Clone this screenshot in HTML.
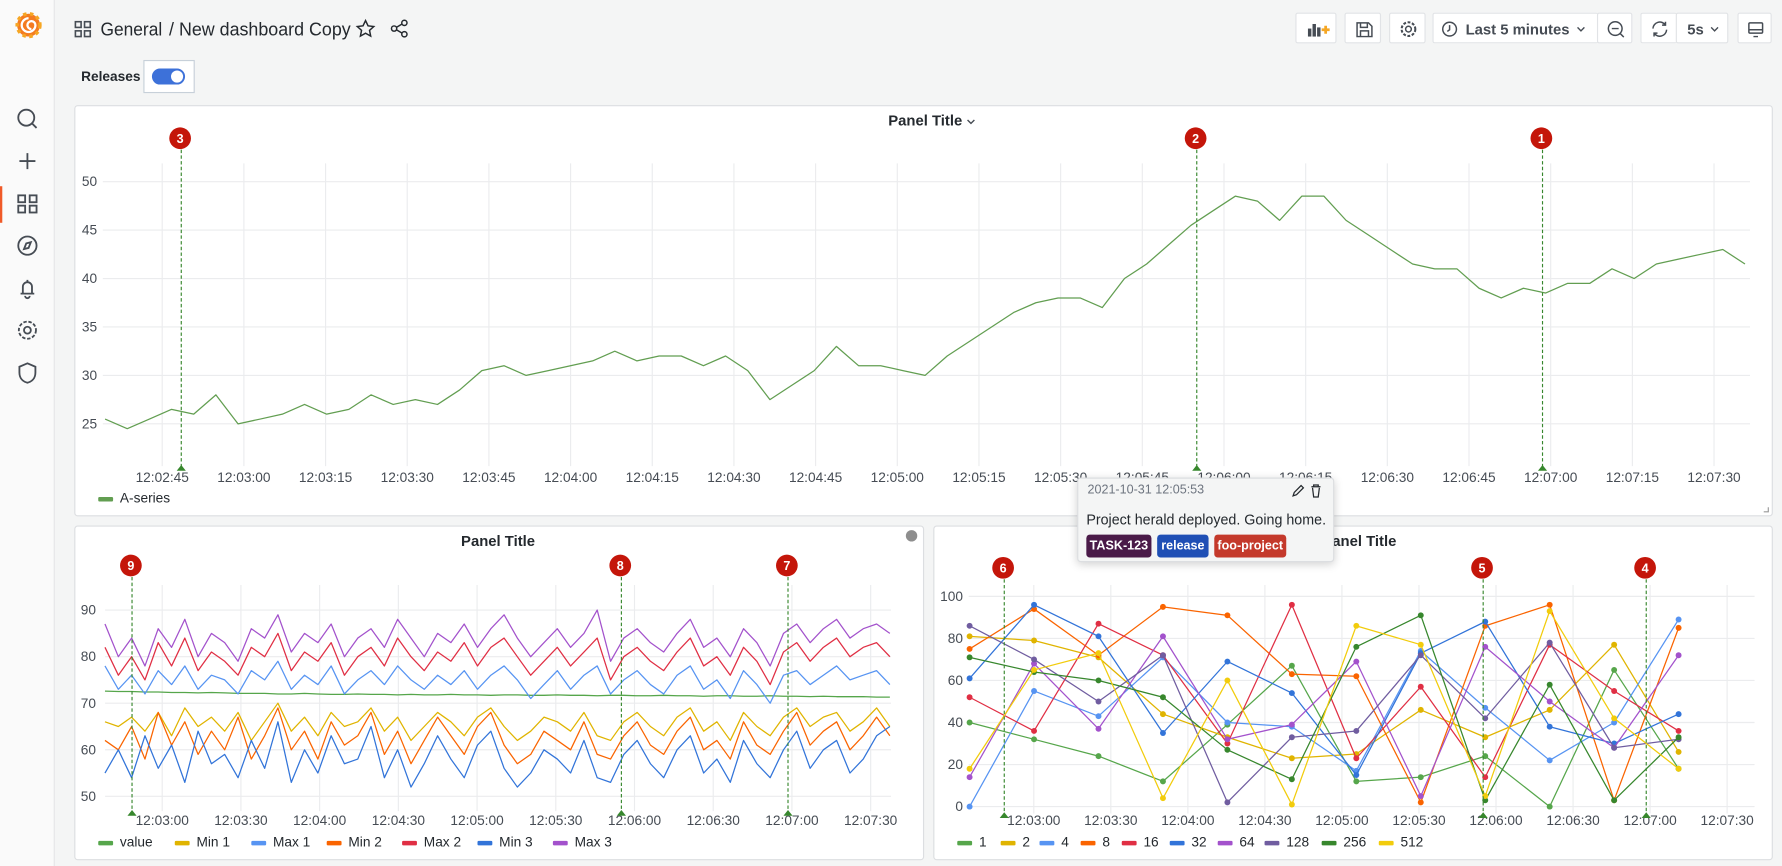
<!DOCTYPE html>
<html><head><meta charset="utf-8">
<style>
html,body{margin:0;padding:0;width:1782px;height:866px;overflow:hidden;background:#f4f5f5;font-family:"Liberation Sans",sans-serif;}
#root{position:absolute;left:0;top:0;width:1560px;height:758px;transform:scale(1.14231,1.14248);transform-origin:0 0;background:#f4f5f5;}
.abs{position:absolute;}
.btn{position:absolute;top:11px;height:27px;background:#fff;border:1px solid #e1e3e6;border-radius:2px;box-sizing:border-box;}
.panel{position:absolute;background:#fff;border:1px solid #dcdee1;border-radius:3px;box-sizing:border-box;}
svg text{font-family:"Liberation Sans",sans-serif;}
</style></head>
<body>
<div id="root">
  <div class="abs" style="left:0;top:0;width:48px;height:758px;background:#fafafa;border-right:1px solid #e4e5e7;box-sizing:border-box;"></div>
  <svg class="abs" style="left:0;top:0" width="1560" height="758" id="chrome">
    <g>
      <circle cx="25" cy="22" r="10" fill="#f47b20"/>
      <circle cx="25" cy="22" r="10" fill="none" stroke="#f6a623" stroke-width="3" stroke-dasharray="3 3"/>
      <path d="M25 16 a6 6 0 1 0 6 6 a3.5 3.5 0 1 0 -3.5 3.5" fill="none" stroke="#fff" stroke-width="2"/>
    </g>
    <g fill="none" stroke="#464c54" stroke-width="1.6">
      <g><circle cx="23" cy="103" r="7"/><path d="M28 108l4 4"/></g>
      <g><path d="M24 134v14M17 141h14"/></g>
      <g><rect x="16" y="171" width="6" height="6"/><rect x="26" y="171" width="6" height="6"/><rect x="16" y="180" width="6" height="6"/><rect x="26" y="180" width="6" height="6"/></g>
      <g><circle cx="24" cy="215" r="8"/><path d="M27 212l-2 5-4 1 2-5z"/></g>
      <g><path d="M18 257h12M20 257v-6a4 4 0 0 1 8 0v6M24 245v2M22 259a2 2 0 0 0 4 0"/></g>
      <g><circle cx="24" cy="289" r="3"/><circle cx="24" cy="289" r="7.5" stroke-dasharray="3 1.5"/></g>
      <g><path d="M24 318l7 3v5c0 5-3 8-7 9c-4-1-7-4-7-9v-5z"/></g>
    </g>
    <rect x="0" y="163" width="2" height="32" fill="#f05a28"/>
    <g fill="none" stroke="#464c54" stroke-width="1.4">
      <rect x="66" y="19" width="5" height="5"/><rect x="74" y="19" width="5" height="5"/><rect x="66" y="27" width="5" height="5"/><rect x="74" y="27" width="5" height="5"/>
    </g>
    <text x="88" y="31" font-size="16" fill="#24292e" textLength="54" lengthAdjust="spacingAndGlyphs">General</text>
    <text x="148" y="31" font-size="16" fill="#24292e" textLength="159" lengthAdjust="spacingAndGlyphs">/ New dashboard Copy</text>
    <path d="M320 18l2.2 4.6 5 .6-3.7 3.4 1 5-4.5-2.5-4.5 2.5 1-5-3.7-3.4 5-.6z" fill="none" stroke="#24292e" stroke-width="1.3"/>
    <g fill="none" stroke="#24292e" stroke-width="1.3"><circle cx="345" cy="25" r="2.3"/><circle cx="354" cy="20" r="2.3"/><circle cx="354" cy="30" r="2.3"/><path d="M347 24l5-3M347 26l5 3"/></g>
    <text x="71" y="71" font-size="12" font-weight="bold" fill="#24292e">Releases</text>
    <rect x="126" y="53" width="44" height="28" fill="#fff" stroke="#c7d0d9"/>
    <g><rect x="133" y="60" width="29" height="14" rx="7" fill="#3d71d9"/><circle cx="155" cy="67" r="5.3" fill="#fff"/></g>
  </svg>
  <div class="btn" style="left:1134px;width:36px;"><svg width="36" height="27"><g fill="#464c54"><rect x="10" y="13" width="3" height="7"/><rect x="14" y="9" width="3" height="11"/><rect x="18" y="12" width="3" height="8"/></g><path d="M22 14h7M25.5 10.5v7" stroke="#f5a623" stroke-width="2.4"/></svg></div>
  <div class="btn" style="left:1177px;width:32px;"><svg width="32" height="27"><path d="M10 8h10l3 3v9H10z M13 8v4h6V8 M13 20v-5h7v5" fill="none" stroke="#464c54" stroke-width="1.3"/></svg></div>
  <div class="btn" style="left:1216px;width:32px;"><svg width="32" height="27"><circle cx="16" cy="13.5" r="2.5" fill="none" stroke="#464c54" stroke-width="1.3"/><circle cx="16" cy="13.5" r="6" fill="none" stroke="#464c54" stroke-width="1.8" stroke-dasharray="2.5 1.4"/></svg></div>
  <div class="btn" style="left:1254px;width:145px;border-right:none;"><svg width="145" height="27"><circle cx="14" cy="13.5" r="6" fill="none" stroke="#464c54" stroke-width="1.3"/><path d="M14 10v4l-2 1.5" fill="none" stroke="#464c54" stroke-width="1.3"/><text x="28" y="18" font-size="13" font-weight="bold" fill="#464c54">Last 5 minutes</text><path d="M126 12l3 3 3-3" fill="none" stroke="#464c54" stroke-width="1.2"/></svg></div>
  <div class="btn" style="left:1398px;width:31px;"><svg width="31" height="27"><circle cx="15" cy="13" r="6" fill="none" stroke="#464c54" stroke-width="1.3"/><path d="M12 13h6M19.5 17.5l3 3" stroke="#464c54" stroke-width="1.3"/></svg></div>
  <div class="btn" style="left:1436px;width:32px;border-right:none;"><svg width="32" height="27"><path d="M10 13a6 6 0 0 1 11-3M22 14a6 6 0 0 1-11 3M21 7v3h-3M11 20v-3h3" fill="none" stroke="#464c54" stroke-width="1.3"/></svg></div>
  <div class="btn" style="left:1467px;width:46px;"><svg width="46" height="27"><text x="9" y="18" font-size="13" font-weight="bold" fill="#464c54">5s</text><path d="M30 12l3 3 3-3" fill="none" stroke="#464c54" stroke-width="1.2"/></svg></div>
  <div class="btn" style="left:1521px;width:30px;"><svg width="30" height="27"><rect x="9" y="8" width="12" height="9" rx="1" fill="none" stroke="#464c54" stroke-width="1.3"/><path d="M9 14h12M13 20h4" stroke="#464c54" stroke-width="1.3"/></svg></div>

  <div class="panel" style="left:65px;top:92px;width:1487px;height:360px;"></div>
  <div class="panel" style="left:65px;top:460px;width:744px;height:293px;"></div>
  <div class="panel" style="left:817px;top:460px;width:735px;height:293px;"></div>
  <svg class="abs" id="charts" style="left:0;top:0" width="1560" height="758"></svg>

  <div class="abs" style="left:943px;top:418px;width:225px;height:74px;background:#f4f5f5;border:1px solid #dcdee1;border-radius:3px;box-shadow:0 2px 8px rgba(0,0,0,0.18);box-sizing:border-box;">
    <div class="abs" style="left:8px;top:4px;font-size:11px;color:#6e7580;">2021-10-31 12:05:53</div>
    <svg class="abs" style="left:186px;top:4px" width="34" height="14"><path d="M2 11l1-3 6-6 2 2-6 6z" fill="none" stroke="#24292e" stroke-width="1.1"/><path d="M18 3h8M20 3V1.5h4V3M19 4l1 8h4l1-8" fill="none" stroke="#24292e" stroke-width="1.1"/></svg>
    <div class="abs" style="left:7px;top:29px;font-size:12.5px;color:#24292e;white-space:nowrap;">Project herald deployed. Going home.</div>
    <div class="abs" style="left:7px;top:49px;width:57px;height:20px;background:#4a1a48;color:#fff;font-size:11px;font-weight:bold;line-height:20px;text-align:center;border-radius:3px;">TASK-123</div>
    <div class="abs" style="left:69px;top:49px;width:45px;height:20px;background:#1f4fb5;color:#fff;font-size:11px;font-weight:bold;line-height:20px;text-align:center;border-radius:3px;">release</div>
    <div class="abs" style="left:119px;top:49px;width:63px;height:20px;background:#c4392b;color:#fff;font-size:11px;font-weight:bold;line-height:20px;text-align:center;border-radius:3px;">foo-project</div>
  </div>
</div>
<script>
// ---------- data ----------
const annotationTimes = [418.5, 355, 168.5]; // seconds after 12:00:00
const annotationLabels = ["1","2","3"];
const annotationTimes2 = [168.5, 355, 418.5];
const annotationLabels2 = ["9","8","7"];
const annotationLabels3 = ["6","5","4"];

const p1Start = 154.5, p1Step = 4.07;
const p1Values = [25.5,24.5,25.5,26.5,26,28,25,25.5,26,27,26,26.5,28,27,27.5,27,28.5,30.5,31,30,30.5,31,31.5,32.5,31.5,32,32,31,32,30.5,27.5,29,30.5,33,31,31,30.5,30,32,33.5,35,36.5,37.5,38,38,37,40,41.5,43.5,45.5,47,48.5,48,46,48.5,48.5,46,44.5,43,41.5,41,41,39,38,39,38.5,39.5,39.5,41,40,41.5,42,42.5,43,41.5];
const p1YTicks = [25,30,35,40,45,50];
const p1XTicks = [165,180,195,210,225,240,255,270,285,300,315,330,345,360,375,390,405,420,435,450];

const p2Start = 158.2, p2Step = 5.07;
const p2Names = ["value","Min 1","Max 1","Min 2","Max 2","Min 3","Max 3"];
const p2Value = [72.6,72.5,72.5,72.4,72.4,72.3,72.3,72.2,72.3,72.2,72.1,72.1,72.1,72.0,72.0,72.1,72.0,71.9,71.9,72.0,71.9,71.9,71.8,71.9,71.8,71.8,71.9,71.8,71.8,71.7,71.8,71.8,71.7,71.7,71.8,71.7,71.7,71.6,71.7,71.7,71.6,71.6,71.7,71.6,71.6,71.5,71.6,71.6,71.5,71.5,71.6,71.5,71.5,71.4,71.5,71.4,71.4,71.4,71.3,71.3];
const p2Min1 = [66,65,67,64,68,63,69,65,67,64,68,62,66,70,64,67,63,68,65,66,69,64,67,62,65,68,66,63,67,69,65,62,64,67,66,64,68,63,62,66,68,65,63,67,69,64,66,62,68,65,63,67,69,65,67,68,64,66,69,65];
const p2Max1 = [78,73,76,72,77,74,78,73,76,75,72,77,75,79,73,76,74,78,72,75,77,74,78,75,73,76,74,77,73,76,78,75,71,74,77,73,76,78,72,75,77,74,72,76,78,73,75,71,77,74,70,76,77,74,76,78,75,76,77,74];
const p2Min2 = [62,60,65,58,68,61,66,59,64,60,67,58,63,69,60,64,58,66,61,63,68,59,64,57,62,67,63,59,65,68,61,57,59,64,62,60,66,59,58,63,66,61,59,64,67,60,62,58,66,61,59,64,68,61,64,66,60,63,67,63];
const p2Max2 = [82,76,80,75,83,78,84,77,81,79,76,82,80,85,77,81,79,83,76,80,82,78,84,80,77,81,79,83,78,82,84,80,76,79,82,78,81,84,75,80,82,79,77,81,84,78,80,76,82,79,74,81,83,79,82,84,80,82,83,80];
const p2Min3 = [55,60,54,63,56,61,53,64,57,59,54,62,56,66,53,60,55,63,57,58,65,54,60,52,57,63,58,54,61,64,56,52,55,60,58,55,62,54,53,59,62,57,54,60,63,55,58,53,62,57,54,60,64,56,60,62,55,58,63,65];
const p2Max3 = [87,80,84,78,86,82,88,80,85,83,79,86,84,89,81,85,83,87,80,84,86,82,88,84,80,85,83,87,82,86,89,84,80,83,86,82,85,90,79,84,86,83,81,85,88,82,84,80,86,83,78,85,87,83,86,88,84,86,87,85];
const p2YTicks = [50,60,70,80,90];
const p2XTicks = [180,210,240,270,300,330,360,390,420,450];

const p3Start = 155, p3Step = 25.1;
const p3Names = ["1","2","4","8","16","32","64","128","256","512"];
const s1   = [40,32,24,12,39,67,12,14,24,0,65,18];
const s2   = [81,79,71,44,33,23,25,46,33,46,77,26];
const s4   = [0,55,43,71,40,38,17,74,47,22,40,89];
const s8   = [75,94,72,95,91,63,62,2,86,96,3,85];
const s16  = [52,36,87,72,30,96,23,57,14,77,55,36];
const s32  = [61,96,81,35,69,54,15,73,88,38,30,44];
const s64  = [14,68,37,81,32,39,69,5,76,50,28,72];
const s128 = [86,70,50,72,2,33,36,72,42,78,28,32];
const s256 = [71,64,60,52,27,13,76,91,3,58,3,33];
const s512 = [18,65,73,4,60,1,86,77,5,93,42,18];
const p3YTicks = [0,20,40,60,80,100];
const p3XTicks = [180,210,240,270,300,330,360,390,420,450];

// ---------- scales ----------
const x1 = t => 142 + (t - 165) * 71.5 / 15;
const y1 = v => 371 - (v - 25) * 8.48;
const x2 = t => 142 + (t - 180) * 2.297;
const y2 = v => 697 - (v - 50) * 4.075;
const x3 = t => 905 + (t - 180) * 2.248;
const y3 = v => 706 - v * 1.84;
const fmt = t => { const m = Math.floor(t / 60), s = Math.round(t % 60); return "12:" + String(m).padStart(2, "0") + ":" + String(s).padStart(2, "0"); };

const NS = "http://www.w3.org/2000/svg";
const svg = document.getElementById("charts");
function mk(tag, attrs, parent) { const e = document.createElementNS(NS, tag); for (const k in attrs) e.setAttribute(k, attrs[k]); (parent || svg).appendChild(e); return e; }
function txt(s, attrs, parent) { const e = mk("text", attrs, parent); e.textContent = s; return e; }
const GRID = "#ebecee", LBL = "#464c54";

function drawAxes(yTicks, ys, xTicks, xs, left, right, top, bottom, yLabelX, xLabelY, prefix) {
  const g = mk("g", {});
  
  
  yTicks.forEach(v => {
    const l = mk("line", { x1: left, x2: right, y1: ys(v), y2: ys(v), stroke: GRID, "stroke-width": 1 }, g);
    
    
    const t = txt(String(v), { x: yLabelX, y: ys(v) + 4, "font-size": 12, fill: LBL, "text-anchor": "end" }, g);
    
    
  });
  xTicks.forEach(tv => {
    const l = mk("line", { x1: xs(tv), x2: xs(tv), y1: top, y2: bottom, stroke: GRID, "stroke-width": 1 }, g);
    
    
    const t = txt(fmt(tv), { x: xs(tv), y: xLabelY, "font-size": 12, fill: LBL, "text-anchor": "middle" }, g);
    
    
  });
}
function drawMarkers(times, labels, xs, cy, bottom, prefix) {
  times.forEach((t, i) => {
    const x = xs(t);
    const l = mk("line", { x1: x, x2: x, y1: cy + 10, y2: bottom, stroke: "#37872d", "stroke-width": 1, "stroke-dasharray": "3 2" });
    
    
    const tr = mk("path", { d: `M${x - 4} ${bottom + 4}L${x + 4} ${bottom + 4}L${x} ${bottom - 1}Z`, fill: "#37872d" });
    
    
    const c = mk("circle", { cx: x - 1, cy: cy, r: 9.5, fill: "#c4160a" });
    
    
    const tx = txt(labels[i], { x: x - 1, y: cy + 4, "font-size": 11, "font-weight": "bold", fill: "#fff", "text-anchor": "middle" });
    
    
  });
}
function series(vals, start, step, xs, ys, color, name, dots) {
  const pts = vals.map((v, i) => xs(start + i * step).toFixed(1) + "," + ys(v).toFixed(1)).join(" ");
  const p = mk("polyline", { points: pts, fill: "none", stroke: color, "stroke-width": 1.1, "stroke-linejoin": "round" });
  
  
  if (dots) vals.forEach((v, i) => {
    const c = mk("circle", { cx: xs(start + i * step), cy: ys(v), r: 2.6, fill: color });
    
    
  });
}
function legend(entries, colors, xsPos, y, prefix) {
  entries.forEach((n, i) => {
    const r = mk("rect", { x: xsPos[i], y: y - 5, width: 13, height: 4, rx: 1, fill: colors[i] });
    
    
    const t = txt(n, { x: xsPos[i] + 19, y: y, "font-size": 12, fill: "#24292e" });
    
    
  });
}
function title(s, x, y, name) {
  const t = txt(s, { x: x, y: y, "font-size": 13, "font-weight": "bold", fill: "#24292e", "text-anchor": "middle" });
  
  
}

// ---------- panel 1 ----------
title("Panel Title", 810, 110, "top-panel-title");
const chev = mk("path", { d: "M847 105l3 3 3-3", fill: "none", stroke: "#464c54", "stroke-width": 1.2 });


drawAxes(p1YTicks, y1, p1XTicks, x1, 90, 1532, 143, 408, 85, 422, "top-panel");
series(p1Values, p1Start, p1Step, x1, y1, "#629e51", "a-series-line", false);
drawMarkers(annotationTimes, annotationLabels, x1, 121, 408, "top-panel");
legend(["A-series"], ["#629e51"], [86], 440, "top-panel");
const rz = mk("path", { d: "M1548 444v4h-4", fill: "none", stroke: "#999", "stroke-width": 1 });



// ---------- panel 2 ----------
title("Panel Title", 436, 478, "bottom-left-panel-title");
const dot = mk("circle", { cx: 798, cy: 469, r: 5, fill: "#8e8e8e" });


drawAxes(p2YTicks, y2, p2XTicks, x2, 92, 780, 512, 710, 84, 722, "bottom-left-panel");
const p2Colors = ["#56a64b", "#e0b400", "#5794f2", "#fa6400", "#e02f44", "#3274d9", "#a352cc"];
const p2Data = [p2Value, p2Min1, p2Max1, p2Min2, p2Max2, p2Min3, p2Max3];
p2Data.forEach((d, i) => series(d, p2Start, p2Step, x2, y2, p2Colors[i], "series-" + p2Names[i].toLowerCase().replace(" ", "-"), false));
drawMarkers(annotationTimes2, annotationLabels2, x2, 495, 710, "bottom-left-panel");
legend(p2Names, p2Colors, [86, 153, 220, 286, 352, 418, 484], 741, "bottom-left-panel");

// ---------- panel 3 ----------
title("Panel Title", 1190, 478, "bottom-right-panel-title");
drawAxes(p3YTicks, y3, p3XTicks, x3, 848, 1536, 512, 712, 843, 722, "bottom-right-panel");
const p3Colors = ["#56a64b", "#e0b400", "#5794f2", "#fa6400", "#e02f44", "#3274d9", "#a352cc", "#705da0", "#37872d", "#f2cc0c"];
const p3Data = [s1, s2, s4, s8, s16, s32, s64, s128, s256, s512];
p3Data.forEach((d, i) => series(d, p3Start, p3Step, x3, y3, p3Colors[i], "series-" + p3Names[i], true));
drawMarkers(annotationTimes2, annotationLabels3, x3, 497, 712, "bottom-right-panel");
legend(p3Names, p3Colors, [838, 876, 910, 946, 982, 1024, 1066, 1107, 1157, 1207], 741, "bottom-right-panel");
</script>
</body></html>
